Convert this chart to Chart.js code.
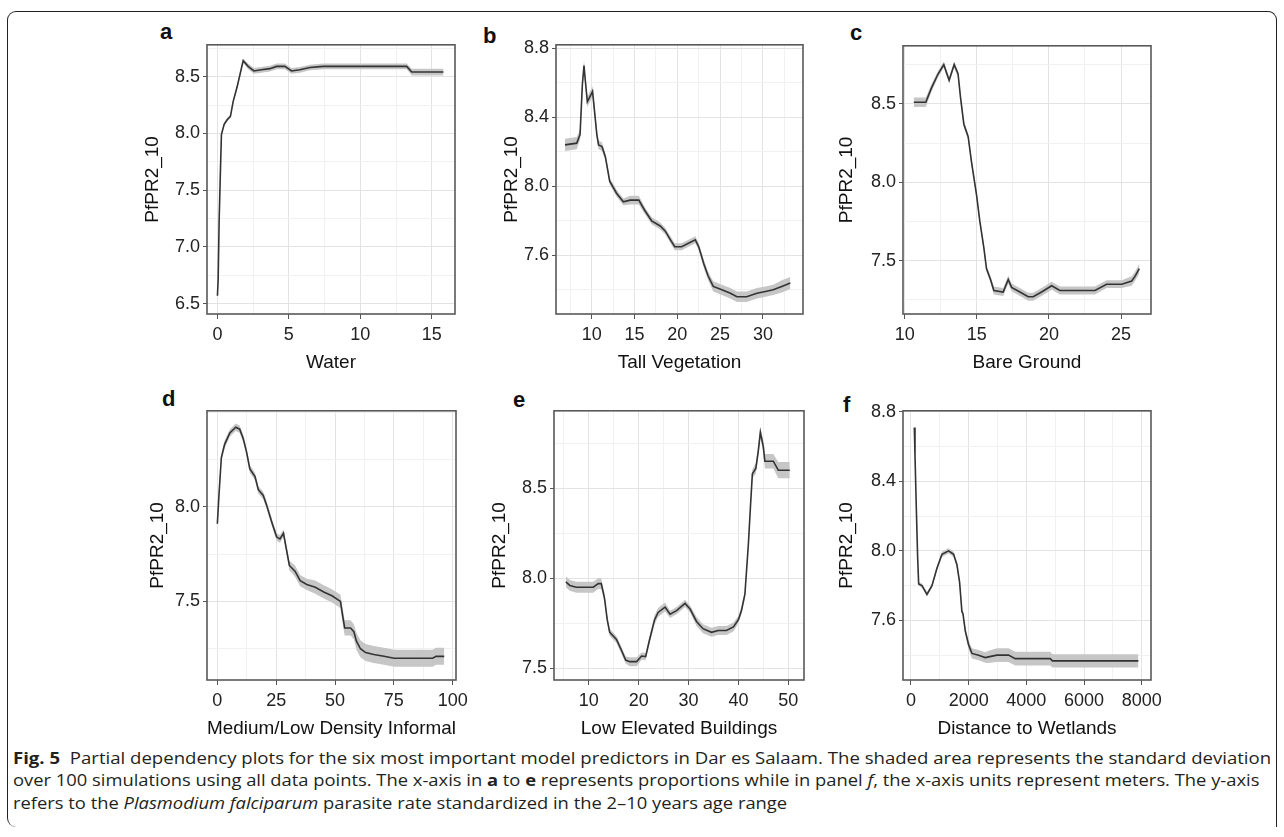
<!DOCTYPE html>
<html lang="en">
<head>
<meta charset="UTF-8">
<title>Fig. 5 Partial dependency plots</title>
<script src="https://cdn.jsdelivr.net/npm/chart.js"></script>
<style>
  body { margin: 0; background: #fff; width: 1284px; height: 837px; position: relative; overflow: hidden; font-family: "Liberation Sans", Arial, sans-serif; }
  .frame { position: absolute; left: 7px; top: 11px; width: 1268px; height: 815px; border: 1.5px solid #222; border-bottom: none; border-radius: 9px 9px 0 9px; }
  .letter { position: absolute; font-weight: bold; font-size: 22px; line-height: 22px; color: #111; }
  .caption { position: absolute; left: 13px; font-family: "Open Sans", sans-serif; font-size: 16.5px; line-height: 22px; color: #231f20; white-space: nowrap; transform-origin: left center; }
</style>
</head>
<body>
<div class="frame"></div>

<div class="letter" style="left:160px;top:21px">a</div>
<div class="letter" style="left:483px;top:25px">b</div>
<div class="letter" style="left:850px;top:22px">c</div>
<div class="letter" style="left:162px;top:388px">d</div>
<div class="letter" style="left:513px;top:389px">e</div>
<div class="letter" style="left:843px;top:394px">f</div>

<div class="caption" id="cap1" style="top:747px"><b>Fig. 5</b>&nbsp; Partial dependency plots for the six most important model predictors in Dar es Salaam. The shaded area represents the standard deviation</div>
<div class="caption" id="cap2" style="top:769px">over 100 simulations using all data points. The x-axis in <b>a</b> to <b>e</b> represents proportions while in panel <i>f</i>, the x-axis units represent meters. The y-axis</div>
<div class="caption" id="cap3" style="top:792px">refers to the <i>Plasmodium falciparum</i> parasite rate standardized in the 2–10 years age range</div>

<script>
// a) Water
const waterX = [0, 0.05, 0.12, 0.21, 0.28, 0.47, 0.68, 0.91, 1.1, 1.38, 1.8, 2.15, 2.55, 3.08, 3.67, 4.14, 4.72, 5.19, 5.77, 6.47, 7.4, 8.34, 10.2, 12.08, 13.25, 13.6, 14.88, 15.82];
const waterY = [6.57, 6.71, 7.23, 7.67, 7.99, 8.08, 8.12, 8.15, 8.28, 8.41, 8.64, 8.59, 8.55, 8.56, 8.57, 8.59, 8.59, 8.55, 8.56, 8.58, 8.59, 8.59, 8.59, 8.59, 8.59, 8.54, 8.54, 8.54];
const waterSd = [0.01, 0.01, 0.01, 0.01, 0.015, 0.015, 0.015, 0.015, 0.015, 0.02, 0.02, 0.025, 0.025, 0.025, 0.025, 0.025, 0.025, 0.025, 0.025, 0.025, 0.025, 0.025, 0.025, 0.025, 0.025, 0.03, 0.03, 0.03];
const waterXTicks = [0, 5, 10, 15];
const waterYTicks = [6.5, 7.0, 7.5, 8.0, 8.5];

// b) Tall Vegetation
const tallX = [6.88, 8.25, 8.64, 8.91, 9.1, 9.26, 9.49, 9.8, 10.1, 10.3, 10.6, 10.8, 11.2, 11.6, 12.1, 12.9, 13.7, 14.5, 15.5, 16.2, 17.0, 18.0, 18.6, 19.2, 19.7, 20.5, 21.3, 22.1, 22.5, 23.1, 23.6, 24.2, 25.2, 26.2, 26.96, 28.1, 29.3, 30.3, 31.2, 32.2, 33.2];
const tallY = [8.24, 8.25, 8.30, 8.59, 8.70, 8.61, 8.49, 8.52, 8.55, 8.45, 8.30, 8.24, 8.23, 8.17, 8.03, 7.96, 7.91, 7.92, 7.92, 7.86, 7.80, 7.77, 7.74, 7.69, 7.65, 7.65, 7.67, 7.69, 7.65, 7.55, 7.48, 7.42, 7.40, 7.38, 7.36, 7.36, 7.38, 7.39, 7.40, 7.42, 7.44];
const tallSd = [0.035, 0.035, 0.03, 0.03, 0.03, 0.03, 0.03, 0.03, 0.03, 0.03, 0.025, 0.025, 0.025, 0.02, 0.02, 0.02, 0.02, 0.025, 0.025, 0.02, 0.02, 0.02, 0.02, 0.02, 0.02, 0.02, 0.02, 0.02, 0.02, 0.025, 0.025, 0.03, 0.03, 0.03, 0.03, 0.03, 0.03, 0.03, 0.03, 0.035, 0.035];
const tallXTicks = [10, 15, 20, 25, 30];
const tallYTicks = [7.6, 8.0, 8.4, 8.8];

// c) Bare Ground
const bareX = [10.63, 11.46, 11.85, 12.31, 12.71, 13.08, 13.43, 13.7, 13.87, 14.1, 14.4, 14.63, 14.98, 15.21, 15.49, 15.67, 15.95, 16.18, 16.83, 17.18, 17.41, 17.99, 18.56, 18.91, 19.49, 20.19, 20.76, 21.69, 23.19, 24.0, 25.05, 25.74, 25.97, 26.27];
const bareY = [8.51, 8.51, 8.60, 8.69, 8.75, 8.65, 8.75, 8.69, 8.54, 8.37, 8.29, 8.13, 7.92, 7.75, 7.58, 7.45, 7.38, 7.31, 7.30, 7.38, 7.33, 7.30, 7.27, 7.27, 7.30, 7.34, 7.31, 7.31, 7.31, 7.35, 7.35, 7.37, 7.40, 7.45];
const bareSd = [0.03, 0.03, 0.025, 0.02, 0.02, 0.02, 0.02, 0.02, 0.02, 0.02, 0.02, 0.02, 0.02, 0.02, 0.02, 0.02, 0.02, 0.025, 0.025, 0.025, 0.025, 0.025, 0.025, 0.025, 0.025, 0.025, 0.025, 0.025, 0.025, 0.025, 0.025, 0.03, 0.03, 0.03];
const bareXTicks = [10, 15, 20, 25];
const bareYTicks = [7.5, 8.0, 8.5];

// d) Medium/Low Density Informal
const informalX = [0, 0.7, 1.7, 3.1, 5.3, 7.8, 9.5, 11.0, 12.4, 13.8, 16.0, 17.4, 19.5, 20.9, 23.1, 25.2, 26.6, 28.1, 29.2, 30.6, 33.0, 35.2, 38.0, 41.6, 45.2, 48.7, 52.3, 53.3, 54.1, 56.6, 58.0, 59.1, 60.8, 63.0, 66.5, 70.8, 75.1, 83.6, 91.5, 92.9, 96.4];
const informalY = [7.91, 8.065, 8.26, 8.33, 8.39, 8.42, 8.41, 8.36, 8.29, 8.20, 8.16, 8.09, 8.06, 8.01, 7.92, 7.84, 7.83, 7.86, 7.785, 7.69, 7.66, 7.61, 7.59, 7.575, 7.55, 7.53, 7.50, 7.42, 7.36, 7.36, 7.34, 7.29, 7.25, 7.23, 7.22, 7.21, 7.20, 7.20, 7.20, 7.21, 7.21];
const informalSd = [0.02, 0.02, 0.02, 0.02, 0.02, 0.02, 0.02, 0.02, 0.02, 0.02, 0.02, 0.02, 0.02, 0.02, 0.02, 0.02, 0.02, 0.02, 0.02, 0.025, 0.03, 0.03, 0.03, 0.035, 0.035, 0.035, 0.035, 0.04, 0.04, 0.04, 0.04, 0.045, 0.045, 0.045, 0.045, 0.045, 0.045, 0.045, 0.045, 0.045, 0.045];
const informalXTicks = [0, 25, 50, 75, 100];
const informalYTicks = [7.5, 8.0];

// e) Low Elevated Buildings
const lowX = [5.4, 6.2, 7.5, 9.5, 10.9, 11.9, 12.5, 13.0, 13.2, 13.7, 14.2, 15.55, 16.55, 17.4, 18.2, 19.6, 20.6, 21.4, 22.2, 23.2, 23.9, 25.3, 26.3, 27.6, 29.3, 30.3, 31.6, 32.9, 34.6, 35.95, 37.6, 39.0, 40.0, 40.6, 41.3, 42.0, 42.4, 42.8, 43.5, 44.0, 44.4, 45.0, 45.3, 47.0, 48.0, 50.3];
const lowY = [7.98, 7.96, 7.95, 7.95, 7.95, 7.97, 7.97, 7.91, 7.88, 7.77, 7.70, 7.66, 7.60, 7.546, 7.537, 7.537, 7.568, 7.565, 7.66, 7.77, 7.81, 7.84, 7.80, 7.82, 7.86, 7.83, 7.76, 7.72, 7.70, 7.71, 7.71, 7.73, 7.77, 7.82, 7.91, 8.19, 8.39, 8.58, 8.61, 8.71, 8.81, 8.73, 8.65, 8.65, 8.60, 8.60];
const lowSd = [0.03, 0.03, 0.03, 0.03, 0.03, 0.03, 0.03, 0.02, 0.02, 0.02, 0.02, 0.02, 0.02, 0.02, 0.025, 0.025, 0.02, 0.02, 0.02, 0.025, 0.025, 0.025, 0.02, 0.02, 0.02, 0.02, 0.025, 0.025, 0.025, 0.025, 0.025, 0.025, 0.02, 0.02, 0.02, 0.02, 0.02, 0.025, 0.03, 0.03, 0.03, 0.035, 0.04, 0.04, 0.045, 0.045];
const lowXTicks = [10, 20, 30, 40, 50];
const lowYTicks = [7.5, 8.0, 8.5];

// f) Distance to Wetlands
const wetX = [115, 139, 185, 231, 266, 381, 554, 727, 900, 1074, 1304, 1478, 1593, 1685, 1766, 1801, 1882, 1997, 2113, 2344, 2574, 2690, 2978, 3382, 3613, 4017, 4825, 4906, 5633, 6788, 7885];
const wetY = [8.71, 8.55, 8.245, 7.96, 7.81, 7.80, 7.75, 7.80, 7.90, 7.98, 8.00, 7.98, 7.92, 7.82, 7.65, 7.64, 7.54, 7.46, 7.41, 7.40, 7.386, 7.39, 7.40, 7.40, 7.38, 7.38, 7.38, 7.367, 7.367, 7.367, 7.367];
const wetSd = [0.01, 0.01, 0.01, 0.01, 0.01, 0.012, 0.012, 0.012, 0.015, 0.015, 0.015, 0.015, 0.015, 0.015, 0.015, 0.015, 0.02, 0.025, 0.03, 0.03, 0.03, 0.035, 0.04, 0.04, 0.04, 0.04, 0.04, 0.038, 0.038, 0.038, 0.038];
const wetXTicks = [0, 2000, 4000, 6000, 8000];
const wetYTicks = [7.6, 8.0, 8.4, 8.8];

const FONT = '"Liberation Sans", Arial, sans-serif';

const panels = [
  { title: 'Water', xs: waterX, ys: waterY, sd: waterSd, xTicks: waterXTicks, yTicks: waterYTicks,
    xLim: [-0.73, 16.63], yLim: [6.41, 8.78], box: [207, 455, 43, 314], yw: 66 },
  { title: 'Tall Vegetation', xs: tallX, ys: tallY, sd: tallSd, xTicks: tallXTicks, yTicks: tallYTicks,
    xLim: [5.83, 34.68], yLim: [7.26, 8.82], box: [556, 803, 43, 314], yw: 56 },
  { title: 'Bare Ground', xs: bareX, ys: bareY, sd: bareSd, xTicks: bareXTicks, yTicks: bareYTicks,
    xLim: [9.88, 27.08], yLim: [7.16, 8.87], box: [903, 1151, 44, 314], yw: 68 },
  { title: 'Medium/Low Density Informal', xs: informalX, ys: informalY, sd: informalSd, xTicks: informalXTicks, yTicks: informalYTicks,
    xLim: [-4.4, 101.4], yLim: [7.085, 8.507], box: [207, 456, 409, 680], yw: 61 },
  { title: 'Low Elevated Buildings', xs: lowX, ys: lowY, sd: lowSd, xTicks: lowXTicks, yTicks: lowYTicks,
    xLim: [3.03, 53.15], yLim: [7.435, 8.93], box: [554, 804, 409, 680], yw: 66 },
  { title: 'Distance to Wetlands', xs: wetX, ys: wetY, sd: wetSd, xTicks: wetXTicks, yTicks: wetYTicks,
    xLim: [-277, 8322], yLim: [7.257, 8.806], box: [903, 1151, 409, 680], yw: 68 }
];

// gray frame round each plot area, like theme_bw
const boxPlugin = {
  id: 'panelBox',
  afterDraw(chart) {
    const { ctx, chartArea: a } = chart;
    ctx.save();
    ctx.strokeStyle = '#595959';
    ctx.lineWidth = 1.6;
    ctx.strokeRect(a.left, a.top, a.right - a.left, a.bottom - a.top);
    ctx.restore();
  }
};

// major ticks plus the half steps between them (minor grid)
function withMinor(major, lim) {
  const step = major[1] - major[0];
  const out = [];
  for (let v = major[0] - step; v <= major[major.length - 1] + step + 1e-9; v += step / 2) {
    const r = +v.toFixed(6);
    if (r >= lim[0] && r <= lim[1]) out.push(r);
  }
  return out;
}

function axisOptions(kind, major, lim, title, fmt, fit) {
  const all = withMinor(major, lim);
  const isMajor = v => major.some(m => Math.abs(m - v) < 1e-6);
  return {
    type: 'linear',
    position: kind === 'x' ? 'bottom' : 'left',
    min: lim[0],
    max: lim[1],
    afterBuildTicks: s => { s.ticks = all.map(v => ({ value: v })); },
    afterFit: s => { if (kind === 'x') s.height = fit; else s.width = fit; },
    ticks: {
      autoSkip: false,
      maxRotation: 0,
      minRotation: 0,
      padding: kind === 'x' ? 5 : 3,
      color: '#222',
      font: { family: FONT, size: 18 },
      callback: v => isMajor(v) ? fmt(v) : ''
    },
    grid: {
      color: c => c.tick && isMajor(c.tick.value) ? '#e3e3e3' : '#f1f1f1',
      tickColor: c => c.tick && isMajor(c.tick.value) ? '#555' : 'rgba(0,0,0,0)',
      tickLength: kind === 'x' ? 5 : 4,
      lineWidth: 1
    },
    border: { display: false },
    title: {
      display: true,
      text: title,
      color: '#111',
      font: { family: FONT, size: 19 },
      padding: kind === 'x' ? { top: 0, bottom: 2 } : { top: 0, bottom: 0 }
    }
  };
}

function drawPanel(p) {
  const [l, r, t, b] = p.box;
  const left = l - p.yw, top = t - 12;
  const width = r + 24 - left, height = b + 62 - top;
  const canvas = document.createElement('canvas');
  canvas.width = width;
  canvas.height = height;
  canvas.style.cssText = `position:absolute;left:${left}px;top:${top}px;width:${width}px;height:${height}px`;
  document.body.appendChild(canvas);

  const mean = p.xs.map((x, i) => ({ x, y: p.ys[i] }));
  const lower = p.xs.map((x, i) => ({ x, y: p.ys[i] - p.sd[i] }));
  const upper = p.xs.map((x, i) => ({ x, y: p.ys[i] + p.sd[i] }));

  new Chart(canvas, {
    type: 'line',
    data: {
      datasets: [
        // first dataset is painted last, so the mean line sits on the ribbon
        { data: mean, borderColor: '#333333', borderWidth: 1.6, pointRadius: 0, fill: false },
        { data: lower, borderWidth: 0, borderColor: 'rgba(0,0,0,0)', pointRadius: 0, fill: false },
        { data: upper, borderWidth: 0, borderColor: 'rgba(0,0,0,0)', pointRadius: 0, fill: '-1', backgroundColor: '#c6c6c6' }
      ]
    },
    plugins: [boxPlugin],
    options: {
      responsive: false,
      animation: false,
      devicePixelRatio: 1,
      layout: { padding: { top: 12, right: 24, left: 0, bottom: 0 } },
      plugins: { legend: { display: false }, tooltip: { enabled: false } },
      elements: { line: { tension: 0 }, point: { radius: 0 } },
      scales: {
        x: axisOptions('x', p.xTicks, p.xLim, p.title, v => String(Math.round(v)), 62),
        y: axisOptions('y', p.yTicks, p.yLim, 'PfPR2_10', v => v.toFixed(1), p.yw)
      }
    }
  });
}

panels.forEach(drawPanel);

// squeeze the caption lines to the printed widths; line 3 reuses line 2's factor
document.fonts.ready.then(() => {
  const k1 = 1258 / document.getElementById('cap1').scrollWidth;
  const k2 = 1246 / document.getElementById('cap2').scrollWidth;
  document.getElementById('cap1').style.transform = `scaleX(${k1})`;
  document.getElementById('cap2').style.transform = `scaleX(${k2})`;
  document.getElementById('cap3').style.transform = `scaleX(${k2})`;
});
</script>
</body>
</html>
